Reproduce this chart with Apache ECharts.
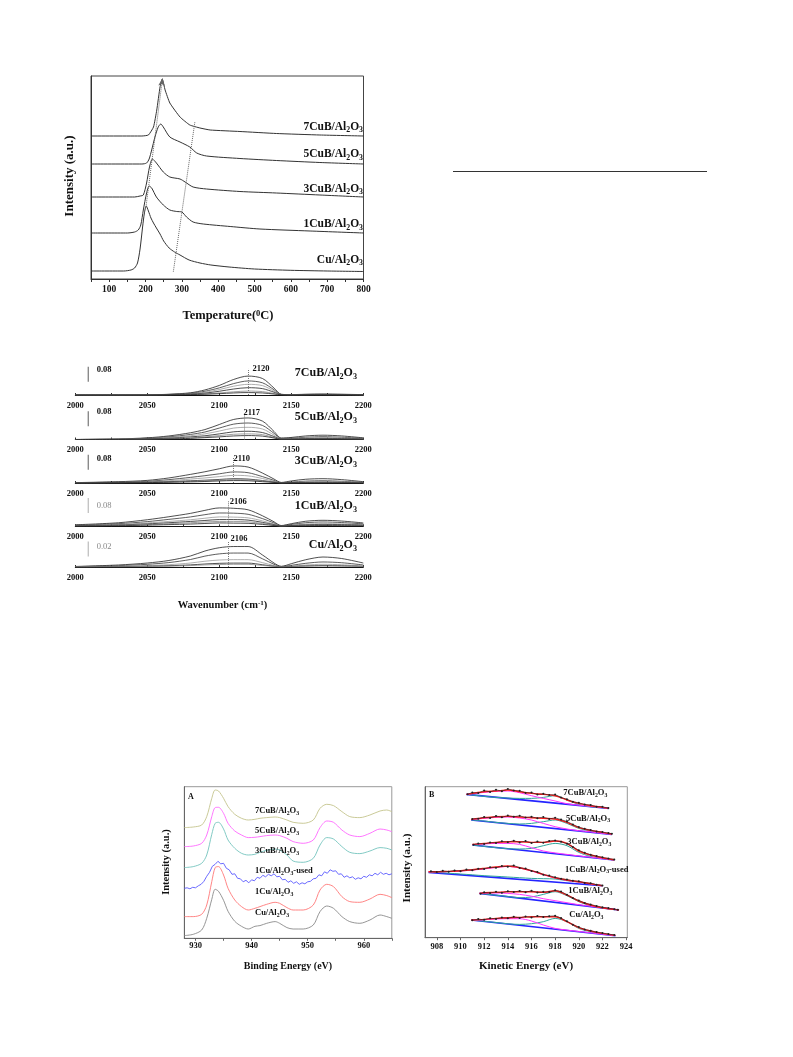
<!DOCTYPE html>
<html><head><meta charset="utf-8">
<script src="https://cdn.jsdelivr.net/npm/echarts@6/dist/echarts.min.js"></script>
<style>html,body{margin:0;padding:0;background:#fff}#c{width:793px;height:1057px}</style>
</head><body><div id="c"></div>
<script>
const SERIF = '"Liberation Serif","Times New Roman",serif';

// ================= TPR (top panel) =================
const tprNames = ['Cu/Al_2O_3','1CuB/Al_2O_3','3CuB/Al_2O_3','5CuB/Al_2O_3','7CuB/Al_2O_3'];
const tprTempCu = [50,140,160,170,178,185,192,197,202,208,215,222,230,240,250,265,280,295,320,350,380,430,500,600,700,800];
const tprCu     = [8,8,9,11,16,30,52,66,73,68,61,56,51,45,38,31,27,24,19,16,14,12,10,8.7,8,7.5];
const tprTemp1  = [50,150,170,180,187,194,203,210,217,230,249,267,286,300,313,331,359,433,515,653,800];
const tpr1CuB   = [46,46,47,49,54,69,86,93,91,82,74,69,67.5,67,62,57,55,52.5,50,48,46];
const tprTemp3  = [50,170,185,194,203,211,219,230,249,267,295,309,331,368,460,560,680,800];
const tpr3CuB   = [82,82,83,84,96,112,120,116,107,102,100,97,92,90,87.5,86,84,82];
const tprTemp5  = [50,190,203,210,217,226,235,242,249,267,295,322,341,368,460,560,680,800];
const tpr5CuB   = [115,115,116,120,129,142,152,155,152,142,137,132,126,123,120.5,118.5,116.5,115];
const tprTemp7  = [50,190,208,222,231,240,246,254,267,295,322,350,378,460,560,680,800];
const tpr7CuB   = [143,143,144,152,169,192,200,189,176,162,154,151,149,147.5,145.5,144,143];
const tprGuideLow  = [[201.4,72.3],[247,201]];
const tprGuideHigh = [[276.6,7.3],[336,157.3]];
const tprTickValues  = [50,100,150,200,250,300,350,400,450,500,550,600,650,700,750,800];
const tprLabelValues = [100,200,300,400,500,600,700,800];

// ================= IR (middle panels) =================
const irNames = ['7CuB/Al_2O_3','5CuB/Al_2O_3','3CuB/Al_2O_3','1CuB/Al_2O_3','Cu/Al_2O_3'];
const irPeaks = [2120,2117,2110,2106,2106];
const irScale = [0.08,0.08,0.08,0.08,0.02];
const irWavenumber = [2000,2030,2050,2065,2080,2090,2100,2110,2120,2130,2138,2143,2150,2160,2172,2185,2200];
const ir7CuB = [
 [0,0,0.001,0.004,0.012,0.027,0.051,0.083,0.101,0.088,0.037,0.004,0.002,0.004,0.005,0.004,0.002],
 [0,0,0.001,0.003,0.009,0.020,0.038,0.061,0.075,0.065,0.028,0.003,0.002,0.003,0.004,0.003,0.001],
 [0,0,0.001,0.002,0.007,0.015,0.029,0.047,0.057,0.050,0.021,0.003,0.001,0.002,0.003,0.002,0.001],
 [0,0,0,0.002,0.005,0.010,0.020,0.032,0.039,0.034,0.015,0.002,0.001,0.002,0.002,0.002,0.001],
 [0,0,0,0.001,0.003,0.006,0.011,0.017,0.021,0.018,0.008,0.001,0.001,0.001,0.001,0.001,0],
 [0,0,0,0.001,0.002,0.004,0.007,0.011,0.013,0.011,0.005,0.001,0,0.001,0.001,0.001,0]
];
const ir5CuB = [
 [0,0.003,0.009,0.019,0.036,0.053,0.080,0.107,0.115,0.098,0.043,0.008,0.011,0.019,0.023,0.019,0.009],
 [0,0.002,0.007,0.014,0.027,0.040,0.061,0.082,0.088,0.075,0.033,0.006,0.007,0.012,0.015,0.012,0.006],
 [0,0.002,0.005,0.011,0.020,0.030,0.045,0.061,0.065,0.056,0.024,0.004,0.005,0.008,0.010,0.008,0.004],
 [0,0.001,0.003,0.007,0.014,0.020,0.030,0.041,0.044,0.037,0.016,0.003,0.003,0.005,0.006,0.005,0.003],
 [0,0.001,0.002,0.005,0.009,0.014,0.021,0.028,0.030,0.026,0.011,0.002,0.002,0.003,0.004,0.003,0.002],
 [0,0,0.002,0.003,0.006,0.010,0.014,0.019,0.021,0.018,0.008,0.001,0.001,0.002,0.003,0.002,0.001]
];
const ir3CuB = [
 [0.002,0.007,0.014,0.027,0.046,0.060,0.076,0.091,0.085,0.053,0.021,0.003,0.011,0.020,0.023,0.018,0.007],
 [0.001,0.005,0.009,0.018,0.030,0.039,0.049,0.059,0.055,0.034,0.014,0.002,0.005,0.010,0.012,0.009,0.004],
 [0.001,0.003,0.006,0.012,0.021,0.027,0.034,0.041,0.038,0.024,0.009,0.001,0.003,0.006,0.007,0.006,0.003],
 [0,0.002,0.004,0.007,0.012,0.015,0.019,0.023,0.021,0.013,0.005,0.001,0.002,0.003,0.004,0.003,0.001],
 [0,0.001,0.003,0.005,0.009,0.012,0.015,0.018,0.017,0.011,0.004,0.001,0.001,0.002,0.002,0.002,0.001],
 [0,0.001,0.002,0.004,0.006,0.008,0.011,0.013,0.012,0.007,0.003,0,0.001,0.001,0.001,0.001,0]
];
const ir1CuB = [
 [0.008,0.019,0.035,0.051,0.069,0.085,0.098,0.096,0.088,0.056,0.024,0.004,0.014,0.027,0.032,0.028,0.018],
 [0.006,0.014,0.025,0.037,0.050,0.062,0.071,0.070,0.064,0.041,0.018,0.003,0.010,0.019,0.023,0.020,0.013],
 [0.004,0.010,0.018,0.026,0.035,0.043,0.050,0.049,0.045,0.029,0.012,0.002,0.006,0.012,0.014,0.013,0.008],
 [0.003,0.007,0.013,0.019,0.026,0.031,0.036,0.036,0.033,0.021,0.009,0.001,0.004,0.008,0.010,0.009,0.006],
 [0.002,0.005,0.009,0.014,0.019,0.023,0.026,0.026,0.024,0.015,0.006,0.001,0.003,0.005,0.006,0.005,0.004],
 [0.001,0.003,0.006,0.009,0.012,0.015,0.018,0.017,0.016,0.010,0.004,0.001,0.002,0.003,0.004,0.003,0.002]
];
const irCu = [
 [0.0007,0.0027,0.0053,0.0087,0.0147,0.0213,0.0257,0.0273,0.0273,0.016,0.0053,0.0009,0.0044,0.0097,0.0133,0.0113,0.0053],
 [0.0005,0.0018,0.0036,0.0059,0.01,0.0145,0.0175,0.0186,0.0186,0.0109,0.0036,0.0006,0.0022,0.0049,0.0067,0.0057,0.0027],
 [0.0003,0.001,0.0019,0.0031,0.0053,0.0077,0.0093,0.0098,0.0098,0.0058,0.0019,0.0003,0.0012,0.0026,0.0036,0.003,0.0014],
 [0.0001,0.0005,0.001,0.0017,0.0028,0.004,0.0049,0.0052,0.0052,0.003,0.001,0.0002,0.0006,0.0014,0.0019,0.0016,0.0008],
 [0.0001,0.0003,0.0007,0.0011,0.0019,0.0028,0.0033,0.0036,0.0036,0.0021,0.0007,0.0001,0.0004,0.001,0.0013,0.0011,0.0005]
];
const irTickValues = [2000,2025,2050,2075,2100,2125,2150,2175,2200];

// ================= XPS A =================
const xpsANames = ['7CuB/Al_2O_3','5CuB/Al_2O_3','3CuB/Al_2O_3','1Cu/Al_2O_3-used','1Cu/Al_2O_3','Cu/Al_2O_3'];
const xpsA_E = [928,929.6,931.1,932,932.9,933.5,934.1,935,935.8,937,938.2,939.4,940.6,941.5,942.7,944.2,945,946.3,947.4,949.2,951,952.2,953.4,954.6,956.1,957.5,959.3,961.1,962.9,964.1,965];
const xpsA_Cu   = [2.7,4,8.3,20,39,49,47,38,27,17,12,9.3,12,12.7,15,16.7,15,10.7,9.3,9.3,13.3,26.7,32.3,30,21.7,16.7,15,18.3,23.3,21.7,20];
const xpsA_1Cu  = [21.7,21.7,24,33.3,56.7,70.7,71.7,63.3,50,38.3,31.7,28.3,30,31.7,34,36,35,30.7,28.3,28.3,33.3,48.3,54,51.7,41.7,36.7,36,39.3,44,42.7,40.7];
const xpsA_3CuB = [70.7,71.7,75,83.3,104,115,116,109.3,98.3,90,85,83.3,84,86,88,89.3,88.3,83.3,77.3,76,80,93.3,100.7,99.3,91.7,86,84.7,87.3,90.7,90,88.3];
const xpsA_5CuB = [91.7,92.3,95,103.3,121.7,130.7,131,125,115,107.3,103.3,100.7,101,101.7,102.7,103.3,102.7,100,96.7,95,98.3,110.7,117.3,116,108.3,103.3,101.7,105,109.3,108.3,106.7];
const xpsA_7CuB = [110.7,111.3,113.3,121.7,140,148.3,147.3,140,131.7,124,120,118.3,119,120,120.7,121.3,120.7,118.3,116,115,118.3,130,134,132.7,126.7,121.7,120.7,123.3,127.3,128.3,126.7];
const xpsA_usedE = [928,928.5,929,929.5,930,930.5,931,931.5,932,932.5,933,933.5,934,934.5,935,935.5,936,936.5,937,937.5,938,938.5,939,939.5,940,940.5,941,941.5,942,942.5,943,943.5,944,944.5,945,945.5,946,946.5,947,947.5,948,948.5,949,949.5,950,950.5,951,951.5,952,952.5,953,953.5,954,954.5,955,955.5,956,956.5,957,957.5,958,958.5,959,959.5,960,960.5,961,961.5,962,962.5,963,963.5,964,964.5,965];
const xpsA_used = [50,50.5,49.5,51,50.5,52.5,54,57,62,66,72,74,77,74.5,75,70,68.5,64,64.5,60,59.5,56.5,58,55.5,58.5,57.5,61,60,63,61.5,64,62.5,64.5,61.5,62,58.5,59,56,57.5,55,56.5,54,55.5,54.5,56.5,57,59.5,60,63.5,62.5,66.5,65,68.5,67,67.5,64,64.5,61,62.5,60.5,61.5,59,60.5,59.5,62,61,63.5,62.5,65,63.5,66,64,65,63.5,64.5];

// ================= XPS B =================
const xpsBNames = ['7CuB/Al_2O_3','5CuB/Al_2O_3','3CuB/Al_2O_3','1CuB/Al_2O_3-used','1CuB/Al_2O_3','Cu/Al_2O_3'];
const B1_E = [910.5,911,912,913,914,915,916,917,918,919,920,921,922,922.55];
const B1_fit = [143.3,144.3,146,146.7,147.7,146,144.3,143.3,142,137.7,134.3,132,130.3,129.3];
const B1_p1  = [143.3,144,145.3,146.3,146.7,145,142,139.3,136.7,134,132.5,131.4,130.1,129.3];
const B1_p2  = [143.3,142.7,141.3,140.3,139.7,139.3,139.3,140.3,142,137.7,133.3,131,130,129.3];
const B1_bgE = [910.5,922.55]; const B1_bg = [143.3,129.3];
const B1_dataE = [910.6,911,911.5,912,912.5,913,913.5,914,914.5,915,915.5,916,916.5,917,917.5,918,918.5,919,919.5,920,920.5,921,921.5,922,922.5];
const B1_data  = [143.5,145.2,144.6,147.2,145.8,147.9,146.5,148.8,147.1,146.9,144.8,145.1,143.2,144.0,142.6,143.1,140.2,138.4,135.9,134.9,133.1,132.8,131.0,130.9,129.6];

const B2_E = [910.9,912,913,914,915,916,917,918,919,920,921,922,922.8];
const B2_fit = [118.3,120,121,121.3,120.7,120,119.3,118.7,115.3,110,107.3,105.3,103.7];
const B2_p1  = [118,119.3,120.3,120.7,119.7,117.7,114.3,111,108.7,107,105.8,104.3,103.5];
const B2_p2  = [117.7,116.7,115.3,114.3,113.7,114.3,116,117.7,114.3,109.3,106.7,104.7,103.5];
const B2_bgE = [910.9,922.8]; const B2_bg = [117.7,103.3];
const B2_dataE = [911,911.5,912,912.5,913,913.5,914,914.5,915,915.5,916,916.5,917,917.5,918,918.5,919,919.5,920,920.5,921,921.5,922,922.5,922.8];
const B2_data  = [118.8,119.0,120.6,119.8,121.7,120.4,122.1,121.0,121.9,120.2,120.9,119.5,120.6,118.8,119.9,118.1,116.2,113.2,110.6,108.9,107.6,106.3,105.6,104.6,104.0];

const B3_E = [911,912,913,914,915,916,917,918,919,920,921,922,923];
const B3_fit = [93.3,94.3,95.3,96,96,95.3,95.3,96.7,94.3,86.7,82.7,80,78];
const B3_p1  = [93,93.7,94.3,94.3,93.3,90,86.7,84.8,83.3,81.8,80.5,79.1,77.7];
const B3_p2  = [92.7,91.3,90,89,88.7,89.3,92,94.3,92,85.3,81.3,79.3,77.7];
const B3_bgE = [911,923]; const B3_bg = [92.7,77.7];
const B3_dataE = [911.1,911.5,912,912.5,913,913.5,914,914.5,915,915.5,916,916.5,917,917.5,918,918.5,919,919.5,920,920.5,921,921.5,922,922.5,923];
const B3_data  = [93.0,94.1,93.6,95.2,94.8,96.4,95.5,97.0,95.3,96.6,94.7,96.1,95.0,96.8,97.2,96.0,93.9,90.8,87.4,84.9,82.9,81.6,80.4,79.1,78.3];

const B4_E = [907.3,908,909,910,911,912,913,914,915,916,917,918,919,920,921,922];
const B4_fit = [66,66,66.3,67,68,69.3,70.7,71.7,70,67,63.3,60,57.7,56,54,52];
const B4_p1  = [66,65.9,66.1,66.7,67.6,68.8,70.2,71.3,69.7,66.7,63,59.7,57.3,55.7,53.7,52];
const B4_p2  = [65.7,65.3,64.5,63.7,62.9,62,61.4,60.7,60,59.3,59,58.7,57,55.7,54,52];
const B4_bgE = [907.3,922]; const B4_bg = [65.3,52];
const B4_dataE = [907.5,908,908.5,909,909.5,910,910.5,911,911.5,912,912.5,913,913.5,914,914.5,915,915.5,916,916.5,917,917.5,918,918.5,919,919.5,920,920.5,921,921.5,922];
const B4_data  = [66.4,65.6,66.9,66.0,67.3,66.5,68.1,67.4,69.0,68.7,70.5,69.9,71.6,71.0,72.3,69.8,69.2,66.6,65.8,63.0,62.1,60.4,58.9,58.2,56.9,56.5,54.8,54.5,52.9,52.3];

const B5_E = [911.6,912,913,914,915,916,917,918,919,920,921,922,923,923.4];
const B5_fit = [44.3,45,45.3,46,46,46,45.3,47,42.7,36.7,32.7,30,28.3,27.7];
const B5_p1  = [44.3,44.7,44.7,44.3,43.3,41.5,39,37,35,33,31.5,30,28.5,27.7];
const B5_p2  = [44.3,43.8,42.5,41.2,40,40.7,43.3,46,42,36,32,29.7,28.3,27.7];
const B5_bgE = [911.6,923.4]; const B5_bg = [44.3,27.7];
const B5_dataE = [911.7,912,912.5,913,913.5,914,914.5,915,915.5,916,916.5,917,917.5,918,918.5,919,919.5,920,920.5,921,921.5,922,922.5,923,923.3];
const B5_data  = [44.0,45.4,44.6,45.9,44.9,46.5,45.6,46.8,45.5,46.9,45.2,46.0,45.6,47.4,46.1,43.0,39.6,37.2,34.8,33.1,31.8,30.4,29.6,28.5,27.9];

const B6_E = [910.9,912,913,914,915,916,917,918,919,920,921,922,923.1];
const B6_fit = [17.7,18.3,19.3,20,20.3,21,21,21,16,10,6.7,4.3,2.3];
const B6_p1  = [17.7,18,18.7,19,19,16.7,12.7,9.3,7.6,6.2,4.9,3.5,2];
const B6_p2  = [17.7,16.4,15.2,13.9,13.3,14,16,19.3,16,9.3,6,4,2.3];
const B6_bgE = [910.9,923.1]; const B6_bg = [17.7,2];
const B6_dataE = [911,911.5,912,912.5,913,913.5,914,914.5,915,915.5,916,916.5,917,917.5,918,918.5,919,919.5,920,920.5,921,921.5,922,922.5,923];
const B6_data  = [17.4,18.6,17.9,19.5,18.8,20.1,19.4,20.9,19.8,21.2,20.3,21.6,20.7,21.5,21.9,19.6,16.4,13.0,10.6,8.3,6.9,5.6,4.7,3.6,2.8];

// ================= helpers =================
function toRich(s){
  let out='', buf='', i=0;
  const flush=()=>{ if(buf){ out+='{b|'+buf+'}'; buf=''; } };
  while(i<s.length){
    const c=s[i];
    if(c==='_'||c==='^'){
      flush(); let t;
      if(s[i+1]==='{'){ const j=s.indexOf('}',i); t=s.slice(i+2,j); i=j+1; }
      else { t=s[i+1]; i+=2; }
      out+='{'+(c==='_'?'s':'p')+'|'+t+'}';
    } else { buf+=c; i++; }
  }
  flush(); return out;
}
function txt(x, yc, str, F, o){
  o=o||{}; const w=o.weight||'bold', col=o.color||'#111', al=o.align||'left';
  const base={fontFamily:SERIF, fontWeight:w, fill:col};
  return {type:'text', x:x, y:yc-F/2, silent:true, z:100,
    style:{text:toRich(str), align:al, textAlign:al, verticalAlign:'top', textVerticalAlign:'top',
      fill:col, fontSize:F, fontWeight:w, fontFamily:SERIF,
      rich:{
        b:Object.assign({fontSize:F, lineHeight:F, verticalAlign:'top'}, base),
        s:Object.assign({fontSize:F*0.68, lineHeight:F*1.16, verticalAlign:'bottom'}, base),
        p:Object.assign({fontSize:F*0.68, lineHeight:F*0.6, verticalAlign:'top'}, base)
      }}};
}
function vtxt(x, yc, str, F){
  return {type:'text', x:x, y:yc, rotation:Math.PI/2, silent:true, z:100,
    style:{text:str, align:'center', textAlign:'center', verticalAlign:'middle', textVerticalAlign:'middle',
      fill:'#111', fontSize:F, fontWeight:'bold', fontFamily:SERIF}};
}
const series=[];
function addLine(ax, xs, ys, color, width, extra){
  series.push(Object.assign({type:'line', xAxisIndex:ax, yAxisIndex:ax,
    data:xs.map((x,i)=>[x,ys[i]]), symbol:'none', smooth:0.3, silent:true,
    lineStyle:{color:color, width:width}, itemStyle:{color:color}, z:2}, extra||{}));
}
const lab = (F,m)=>({fontFamily:SERIF, fontWeight:'bold', fontSize:F, color:'#111', margin:m, formatter:v=>String(v)});

// ================= layout =================
const irAxisY = [395,439.5,483,526.3,567];
const grids=[], xAxes=[], yAxes=[];
grids.push({left:91, top:76, width:272.5, height:203, show:true, borderColor:'#444', borderWidth:1});
xAxes.push({gridIndex:0, type:'value', min:50, max:800,
  axisLine:{lineStyle:{color:'#333'}},
  axisTick:{customValues:tprTickValues, length:3, lineStyle:{color:'#333'}},
  axisLabel:Object.assign(lab(9.5,6), {customValues:tprLabelValues}), splitLine:{show:false}});
yAxes.push({gridIndex:0, type:'value', min:0, max:203, axisLine:{show:true, lineStyle:{color:'#333'}},
  axisTick:{show:false}, axisLabel:{show:false}, splitLine:{show:false}});
irAxisY.forEach((ay,i)=>{
  grids.push({left:75.3, top:ay-42, width:288, height:42});
  xAxes.push({gridIndex:i+1, type:'value', min:2000, max:2200, interval:50,
    axisLine:{lineStyle:{color:'#111', width:1}},
    axisTick:{customValues:irTickValues, inside:true, length:2, lineStyle:{color:'#333'}},
    axisLabel:lab(8.5,6), splitLine:{show:false}});
  yAxes.push({gridIndex:i+1, type:'value', min:0, max:(i===4?0.056:0.224), show:false, splitLine:{show:false}});
});
grids.push({left:184.3, top:786.7, width:207.5, height:151.6, show:true, borderColor:'#999', borderWidth:1});
xAxes.push({gridIndex:6, type:'value', min:928, max:965,
  axisLine:{lineStyle:{color:'#666'}},
  axisTick:{customValues:[930,935,940,945,950,955,960,965], length:2.5, lineStyle:{color:'#666'}},
  axisLabel:Object.assign(lab(8.5,3), {customValues:[930,940,950,960]}), splitLine:{show:false}});
yAxes.push({gridIndex:6, type:'value', min:0, max:151.6, axisLine:{show:true, lineStyle:{color:'#666'}},
  axisTick:{show:false}, axisLabel:{show:false}, splitLine:{show:false}});
grids.push({left:425, top:786.7, width:202.3, height:151, show:true, borderColor:'#999', borderWidth:1});
xAxes.push({gridIndex:7, type:'value', min:907, max:924.1,
  axisLine:{lineStyle:{color:'#666'}},
  axisTick:{customValues:[908,910,912,914,916,918,920,922,924], length:2.5, lineStyle:{color:'#666'}},
  axisLabel:Object.assign(lab(8.5,5), {customValues:[908,910,912,914,916,918,920,922,924]}), splitLine:{show:false}});
yAxes.push({gridIndex:7, type:'value', min:0, max:151, axisLine:{show:true, lineStyle:{color:'#666'}},
  axisTick:{show:false}, axisLabel:{show:false}, splitLine:{show:false}});

// ================= series =================
addLine(0, tprTempCu, tprCu, '#333', 1, {smooth:0.25});
addLine(0, tprTemp1, tpr1CuB, '#333', 1, {smooth:0.25});
addLine(0, tprTemp3, tpr3CuB, '#333', 1, {smooth:0.25});
addLine(0, tprTemp5, tpr5CuB, '#333', 1, {smooth:0.25});
addLine(0, tprTemp7, tpr7CuB, '#333', 1, {smooth:0.15,
  markLine:{silent:true, symbol:['none','none'], label:{show:false}, animation:false,
    lineStyle:{type:'dotted', color:'#666', width:1},
    data:[
      [{coord:tprGuideLow[0]},{coord:tprGuideLow[1], symbol:'arrow', symbolSize:[5,8]}],
      [{coord:tprGuideHigh[0]},{coord:tprGuideHigh[1]}]
    ]}});

const irSets=[ir7CuB, ir5CuB, ir3CuB, ir1CuB, irCu];
const irColors=['#222','#333','#999','#222','#888','#222'];
irSets.forEach((rows,p)=>{
  const ax=p+1;
  const sc=irScale[p];
  const low = p===4 ? 0.014 : 0.071;
  const top = p===4 ? 0.034 : 0.139;
  rows.forEach((vals,k)=>{
    const extra={smooth:0.3};
    if(k===0){
      extra.markLine={silent:true, symbol:['none','none'], label:{show:false}, animation:false,
        lineStyle:{type:'dotted', color:'#777', width:1},
        data:[[{coord:[irPeaks[p],0]},{coord:[irPeaks[p],top]}]]};
    }
    addLine(ax, irWavenumber, vals, irColors[k], 0.8, extra);
  });
  addLine(ax, [2009,2009], [low, low+sc], p>=3?'#bbb':'#777', 1.2, {smooth:false});
});

addLine(6, xpsA_E, xpsA_Cu,   '#8a8a8a', 0.9);
addLine(6, xpsA_E, xpsA_1Cu,  '#ff7777', 0.9);
addLine(6, xpsA_usedE, xpsA_used, '#5a5aff', 0.9, {smooth:false});
addLine(6, xpsA_E, xpsA_3CuB, '#74c4bd', 0.9);
addLine(6, xpsA_E, xpsA_5CuB, '#ff66ff', 0.9);
addLine(6, xpsA_E, xpsA_7CuB, '#c4c48c', 0.9);

const Bsets=[
  [B1_E,B1_fit,B1_p1,B1_p2,B1_bgE,B1_bg,B1_dataE,B1_data],
  [B2_E,B2_fit,B2_p1,B2_p2,B2_bgE,B2_bg,B2_dataE,B2_data],
  [B3_E,B3_fit,B3_p1,B3_p2,B3_bgE,B3_bg,B3_dataE,B3_data],
  [B4_E,B4_fit,B4_p1,B4_p2,B4_bgE,B4_bg,B4_dataE,B4_data],
  [B5_E,B5_fit,B5_p1,B5_p2,B5_bgE,B5_bg,B5_dataE,B5_data],
  [B6_E,B6_fit,B6_p1,B6_p2,B6_bgE,B6_bg,B6_dataE,B6_data]
];
Bsets.forEach(s=>{
  addLine(7, s[4], s[5], '#2424ff', 1.6, {smooth:false});
  addLine(7, s[0], s[3], '#2fa59a', 1.0);
  addLine(7, s[0], s[2], '#ff33ff', 1.0);
  addLine(7, s[0], s[1], '#ff1a1a', 1.4);
  addLine(7, s[6], s[7], '#222', 0.6, {smooth:false, symbol:'circle', symbolSize:2, showSymbol:true, showAllSymbol:true, z:3});
});

// ================= texts =================
const g=[];
const tprLabelY=[259.3,224,188.3,154,126.7];
tprNames.forEach((n,i)=>g.push(txt(363, tprLabelY[i], n, 11.5, {align:'right'})));
g.push(vtxt(70, 176, 'Intensity (a.u.)', 13));
g.push(txt(228, 316, 'Temperature(^0C)', 12.5, {align:'center'}));

const irLabelY=[373.3,416.7,461,505.7,545];
const irPeakPos=[[261,368.3],[251.7,412.3],[241.7,458.3],[238.3,501.7],[239,538.3]];
const irScaleY=[370,411.7,459,505.7,546.7];
irNames.forEach((n,i)=>{
  g.push(txt(357, irLabelY[i], n, 12, {align:'right'}));
  g.push(txt(irPeakPos[i][0], irPeakPos[i][1], String(irPeaks[i]), 8.5, {align:'center'}));
  g.push(txt(96.7, irScaleY[i], irScale[i].toFixed(2), 8.5, i>=3?{weight:'normal', color:'#888'}:{}));
});
g.push(txt(222.5, 605, 'Wavenumber (cm^{-1})', 10.5, {align:'center'}));

const aLabelY=[811,831,851,871,891.5,912.5];
xpsANames.forEach((n,i)=>g.push(txt(255, aLabelY[i], n, 8.5)));
g.push(txt(188, 796.5, 'A', 8));
g.push(vtxt(166.7, 862, 'Intensity (a.u.)', 10.5));
g.push(txt(288, 966, 'Binding Energy (eV)', 10, {align:'center'}));

const bLabelPos=[[563.3,792.7],[566,818.3],[567.3,841.7],[565,869.3],[568.3,891],[569.3,915]];
xpsBNames.forEach((n,i)=>g.push(txt(bLabelPos[i][0], bLabelPos[i][1], n, 8.5)));
g.push(txt(429, 795, 'B', 8));
g.push(vtxt(407, 868, 'Intensity (a.u.)', 11));
g.push(txt(526, 966, 'Kinetic Energy (eV)', 11, {align:'center'}));

g.push({type:'line', silent:true, shape:{x1:453, y1:171.5, x2:707, y2:171.5}, style:{stroke:'#333', lineWidth:1}});

const chart=echarts.init(document.getElementById('c'), null, {renderer:'canvas'});
chart.setOption({animation:false, backgroundColor:'#fff', textStyle:{fontFamily:SERIF},
  grid:grids, xAxis:xAxes, yAxis:yAxes, series:series, graphic:g});
</script></body></html>
